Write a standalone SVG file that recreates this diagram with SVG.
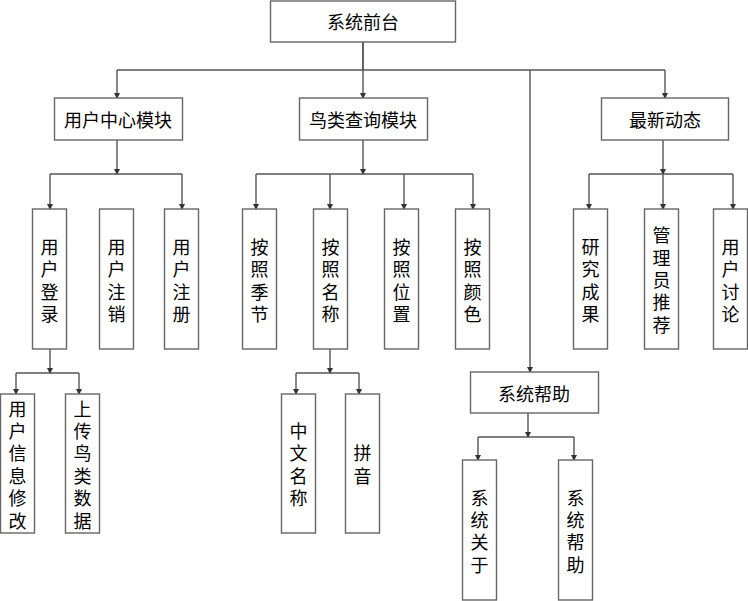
<svg xmlns="http://www.w3.org/2000/svg" width="748" height="601" viewBox="0 0 748 601">
<defs>
<marker id="ah" markerWidth="6" markerHeight="6" refX="5" refY="3" orient="auto" markerUnits="userSpaceOnUse">
<path d="M0,0 L6,3 L0,6 Z" fill="#333"/>
</marker>
<style>
.box{fill:#fff;stroke:#666;stroke-width:1.4}
.ln{fill:none;stroke:#555;stroke-width:1.4}
.ar{fill:none;stroke:#555;stroke-width:1.4;marker-end:url(#ah)}
text{font-family:"Noto Sans CJK SC","Liberation Sans",sans-serif;font-size:18px;fill:#000;text-anchor:middle;dominant-baseline:central}
</style>
</defs>
<rect width="748" height="601" fill="#fff"/>
<g id="connectors">
<path class="ln" d="M363,42 V70"/>
<path class="ln" d="M117,70 H665"/>
<path class="ar" d="M117,70 V98"/>
<path class="ar" d="M363,42 V98"/>
<path class="ar" d="M665,70 V98"/>
<path class="ar" d="M530,70 V372"/>
<path class="ar" d="M117,140 V174"/>
<path class="ln" d="M50,174 H182"/>
<path class="ar" d="M50,174 V209"/>
<path class="ar" d="M182,174 V209"/>
<path class="ar" d="M363,140 V174"/>
<path class="ln" d="M256,174 H473"/>
<path class="ar" d="M256,174 V209"/>
<path class="ar" d="M330,174 V209"/>
<path class="ar" d="M404,174 V209"/>
<path class="ar" d="M473,174 V209"/>
<path class="ar" d="M663,140 V174"/>
<path class="ln" d="M589,174 H733"/>
<path class="ar" d="M589,174 V209"/>
<path class="ar" d="M663,174 V209"/>
<path class="ar" d="M733,174 V209"/>
<path class="ar" d="M50,349 V373"/>
<path class="ln" d="M16,373 H79"/>
<path class="ar" d="M16,373 V394"/>
<path class="ar" d="M79,373 V394"/>
<path class="ar" d="M330,349 V373"/>
<path class="ln" d="M296,373 H359"/>
<path class="ar" d="M296,373 V394"/>
<path class="ar" d="M359,373 V394"/>
<path class="ar" d="M528,413 V437"/>
<path class="ln" d="M478,437 H574"/>
<path class="ar" d="M478,437 V460"/>
<path class="ar" d="M574,437 V460"/>
</g>
<g id="n-root"><rect class="box" x="270.5" y="1" width="185" height="41"/><text x="363" y="21">系统前台</text></g>
<g id="n-user"><rect class="box" x="54.5" y="98" width="128" height="42"/><text x="118" y="119">用户中心模块</text></g>
<g id="n-bird"><rect class="box" x="299.5" y="98" width="128" height="42"/><text x="363" y="119">鸟类查询模块</text></g>
<g id="n-news"><rect class="box" x="601.5" y="98" width="127" height="42"/><text x="665" y="119">最新动态</text></g>
<g id="n-help"><rect class="box" x="470.5" y="372" width="128" height="41"/><text x="534" y="392.5">系统帮助</text></g>

<g id="n-login"><rect class="box" x="32.5" y="209" width="34" height="140"/><text x="49.5" y="246"><tspan x="49.5">用</tspan><tspan x="49.5" dy="22.4">户</tspan><tspan x="49.5" dy="22.4">登</tspan><tspan x="49.5" dy="22.4">录</tspan></text></g>
<g id="n-logout"><rect class="box" x="99.5" y="209" width="34" height="140"/><text x="116.5" y="246"><tspan x="116.5">用</tspan><tspan x="116.5" dy="22.4">户</tspan><tspan x="116.5" dy="22.4">注</tspan><tspan x="116.5" dy="22.4">销</tspan></text></g>
<g id="n-register"><rect class="box" x="164.5" y="209" width="34" height="140"/><text x="181.5" y="246"><tspan x="181.5">用</tspan><tspan x="181.5" dy="22.4">户</tspan><tspan x="181.5" dy="22.4">注</tspan><tspan x="181.5" dy="22.4">册</tspan></text></g>

<g id="n-season"><rect class="box" x="242.5" y="209" width="34" height="140"/><text x="259.5" y="246"><tspan x="259.5">按</tspan><tspan x="259.5" dy="22.4">照</tspan><tspan x="259.5" dy="22.4">季</tspan><tspan x="259.5" dy="22.4">节</tspan></text></g>
<g id="n-name"><rect class="box" x="313.5" y="209" width="34" height="140"/><text x="330.5" y="246"><tspan x="330.5">按</tspan><tspan x="330.5" dy="22.4">照</tspan><tspan x="330.5" dy="22.4">名</tspan><tspan x="330.5" dy="22.4">称</tspan></text></g>
<g id="n-pos"><rect class="box" x="384.5" y="209" width="34" height="140"/><text x="401.5" y="246"><tspan x="401.5">按</tspan><tspan x="401.5" dy="22.4">照</tspan><tspan x="401.5" dy="22.4">位</tspan><tspan x="401.5" dy="22.4">置</tspan></text></g>
<g id="n-color"><rect class="box" x="455.5" y="209" width="34" height="140"/><text x="472.5" y="246"><tspan x="472.5">按</tspan><tspan x="472.5" dy="22.4">照</tspan><tspan x="472.5" dy="22.4">颜</tspan><tspan x="472.5" dy="22.4">色</tspan></text></g>

<g id="n-research"><rect class="box" x="573.5" y="209" width="34" height="140"/><text x="590.5" y="246"><tspan x="590.5">研</tspan><tspan x="590.5" dy="22.4">究</tspan><tspan x="590.5" dy="22.4">成</tspan><tspan x="590.5" dy="22.4">果</tspan></text></g>
<g id="n-admin"><rect class="box" x="644.5" y="209" width="34" height="140"/><text x="661.5" y="234.2"><tspan x="661.5">管</tspan><tspan x="661.5" dy="22.4">理</tspan><tspan x="661.5" dy="22.4">员</tspan><tspan x="661.5" dy="22.4">推</tspan><tspan x="661.5" dy="22.4">荐</tspan></text></g>
<g id="n-discuss"><rect class="box" x="713.5" y="209" width="34" height="140"/><text x="730.5" y="246"><tspan x="730.5">用</tspan><tspan x="730.5" dy="22.4">户</tspan><tspan x="730.5" dy="22.4">讨</tspan><tspan x="730.5" dy="22.4">论</tspan></text></g>

<g id="n-modify"><rect class="box" x="0.5" y="394" width="34" height="139"/><text x="17.5" y="407.5"><tspan x="17.5">用</tspan><tspan x="17.5" dy="22.4">户</tspan><tspan x="17.5" dy="22.4">信</tspan><tspan x="17.5" dy="22.4">息</tspan><tspan x="17.5" dy="22.4">修</tspan><tspan x="17.5" dy="22.4">改</tspan></text></g>
<g id="n-upload"><rect class="box" x="65.5" y="394" width="34" height="139"/><text x="82.5" y="407.5"><tspan x="82.5">上</tspan><tspan x="82.5" dy="22.4">传</tspan><tspan x="82.5" dy="22.4">鸟</tspan><tspan x="82.5" dy="22.4">类</tspan><tspan x="82.5" dy="22.4">数</tspan><tspan x="82.5" dy="22.4">据</tspan></text></g>

<g id="n-cn"><rect class="box" x="281.5" y="394" width="34" height="139"/><text x="298.5" y="430"><tspan x="298.5">中</tspan><tspan x="298.5" dy="22.4">文</tspan><tspan x="298.5" dy="22.4">名</tspan><tspan x="298.5" dy="22.4">称</tspan></text></g>
<g id="n-pinyin"><rect class="box" x="345.5" y="394" width="34" height="139"/><text x="362.5" y="452.3"><tspan x="362.5">拼</tspan><tspan x="362.5" dy="22.4">音</tspan></text></g>

<g id="n-about"><rect class="box" x="462.5" y="460" width="34" height="140"/><text x="479.5" y="496.5"><tspan x="479.5">系</tspan><tspan x="479.5" dy="22.4">统</tspan><tspan x="479.5" dy="22.4">关</tspan><tspan x="479.5" dy="22.4">于</tspan></text></g>
<g id="n-help2"><rect class="box" x="558.5" y="460" width="34" height="140"/><text x="575.5" y="496.5"><tspan x="575.5">系</tspan><tspan x="575.5" dy="22.4">统</tspan><tspan x="575.5" dy="22.4">帮</tspan><tspan x="575.5" dy="22.4">助</tspan></text></g>
</svg>
